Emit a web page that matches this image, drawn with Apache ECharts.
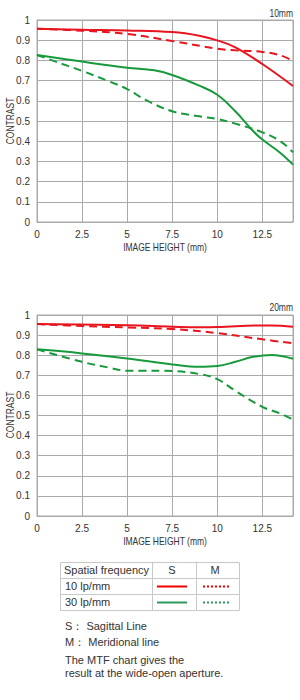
<!DOCTYPE html>
<html><head><meta charset="utf-8">
<script src="https://cdn.jsdelivr.net/npm/echarts@6/dist/echarts.min.js"></script>
<style>html,body{margin:0;padding:0;background:#fff}#c{width:300px;height:700px}</style>
</head><body><div id="c"></div>
<script>
// ---- data ----
const xTicks = [0, 2.5, 5, 7.5, 10, 12.5];
const yTicks = [0, 0.1, 0.2, 0.3, 0.4, 0.5, 0.6, 0.7, 0.8, 0.9, 1];
const chartTitles = ['10mm', '20mm'];

// 10mm
const w_s10_x = [0, 2.5, 5, 7.5, 9, 10, 11, 12.5, 14.2];
const w_s10_y = [0.957, 0.952, 0.948, 0.94, 0.922, 0.899, 0.865, 0.782, 0.673];
const w_m10_x = [0, 2.5, 5, 7.5, 10, 11, 12.5, 13.5, 14.2];
const w_m10_y = [0.957, 0.947, 0.931, 0.896, 0.858, 0.85, 0.842, 0.825, 0.797];
const w_s30_x = [0, 2.5, 5, 6.5, 7.5, 9, 10, 11, 12, 12.5, 13.5, 14.2];
const w_s30_y = [0.827, 0.794, 0.764, 0.751, 0.728, 0.675, 0.63, 0.548, 0.449, 0.408, 0.342, 0.284];
const w_m30_x = [0, 1, 2.5, 4, 5, 6, 7.5, 9, 10, 11, 12.5, 13.5, 14.2];
const w_m30_y = [0.827, 0.795, 0.748, 0.696, 0.658, 0.606, 0.548, 0.523, 0.51, 0.487, 0.444, 0.4, 0.345];

// 20mm
const t_s10_x = [0, 5, 7.5, 9, 10, 12.5, 13, 14.2];
const t_s10_y = [0.955, 0.949, 0.942, 0.939, 0.94, 0.948, 0.948, 0.941];
const t_m10_x = [0, 2.5, 5, 7.5, 10, 12.5, 14.2];
const t_m10_y = [0.955, 0.945, 0.938, 0.93, 0.91, 0.879, 0.859];
const t_s30_x = [0, 2.5, 5, 7.5, 9, 10, 11, 12, 13, 14.2];
const t_s30_y = [0.829, 0.809, 0.784, 0.754, 0.742, 0.746, 0.767, 0.792, 0.801, 0.782];
const t_m30_x = [0, 2.5, 4, 5, 6, 7.5, 9, 10, 11, 12.5, 13.5, 14.2];
const t_m30_y = [0.829, 0.767, 0.738, 0.723, 0.723, 0.721, 0.706, 0.681, 0.623, 0.543, 0.51, 0.48];

const xMax = 14.2;
const RED = '#e8141e', GREEN = '#189a3c';
const FONT = '"Liberation Sans", Arial, sans-serif';
const TXT = '#333';
const SQ = 0.85; // horizontal squeeze of the narrow chart captions

function pairs(xs, ys){ return xs.map((x,i)=>[x, ys[i]]); }

const chart = echarts.init(document.getElementById('c'), null, {renderer:'svg'});

const grids = [
  {left:37, top:20, width:256, height:202},
  {left:37, top:315, width:256, height:201}
];
const xAxes = grids.map((g,i)=>({
  type:'value', gridIndex:i, min:0, max:xMax, interval:2.5,
  axisLine:{show:true, lineStyle:{color:'#aaa'}}, axisTick:{show:false},
  splitLine:{show:true, lineStyle:{color:'#aaa', width:1}},
  axisLabel:{color:TXT, fontSize:10, fontFamily:FONT, margin:7, showMaxLabel:false,
    formatter:v=> xTicks.includes(v) ? String(v) : ''}
}));
const yAxes = grids.map((g,i)=>({
  type:'value', gridIndex:i, min:0, max:1, interval:0.1,
  axisLine:{show:true, lineStyle:{color:'#aaa'}}, axisTick:{show:false},
  splitLine:{show:true, lineStyle:{color:'#aaa', width:1}},
  axisLabel:{color:TXT, fontSize:10, fontFamily:FONT, margin:7,
    formatter:v=>{ const t = yTicks.find(k=>Math.abs(k-v)<1e-6); return t===undefined?'':String(t);} }
}));

function ser(i, xs, ys, color, dashed){
  return {type:'line', xAxisIndex:i, yAxisIndex:i, data:pairs(xs,ys), smooth:0.4,
    showSymbol:false, symbol:'none', silent:true,
    lineStyle:{color, width:2, type: dashed ? [8,5] : 'solid'}};
}
const series = [
  ser(0, w_m10_x, w_m10_y, RED, true),
  ser(0, w_s10_x, w_s10_y, RED, false),
  ser(0, w_m30_x, w_m30_y, GREEN, true),
  ser(0, w_s30_x, w_s30_y, GREEN, false),
  ser(1, t_m10_x, t_m10_y, RED, true),
  ser(1, t_s10_x, t_s10_y, RED, false),
  ser(1, t_m30_x, t_m30_y, GREEN, true),
  ser(1, t_s30_x, t_s30_y, GREEN, false)
];

function cap(text, x, y, rot, align){
  return {type:'text', x, y, rotation:rot||0, scaleX:SQ,
    style:{text, fill:TXT, font:'10px '+FONT, textAlign:align||'center', textVerticalAlign:'middle'}};
}

const tb = '#c8c8c8';
const LF = 11;
const graphic = [
  cap(chartTitles[0], 293, 14, 0, 'right'),
  cap(chartTitles[1], 293, 308, 0, 'right'),
  cap('CONTRAST', 11, 121, Math.PI/2),
  cap('CONTRAST', 11, 415, Math.PI/2),
  cap('IMAGE HEIGHT (mm)', 165, 248, 0),
  cap('IMAGE HEIGHT (mm)', 165, 542, 0),
  // legend table
  {type:'rect', shape:{x:60.5, y:562.5, width:179, height:48}, style:{fill:'none', stroke:tb, lineWidth:1}},
  {type:'line', shape:{x1:60, y1:578.5, x2:240, y2:578.5}, style:{stroke:tb, lineWidth:1}},
  {type:'line', shape:{x1:60, y1:594.5, x2:240, y2:594.5}, style:{stroke:tb, lineWidth:1}},
  {type:'line', shape:{x1:152.5, y1:562, x2:152.5, y2:611}, style:{stroke:tb, lineWidth:1}},
  {type:'line', shape:{x1:196.5, y1:562, x2:196.5, y2:611}, style:{stroke:tb, lineWidth:1}},
  {type:'text', x:64, y:570, style:{text:'Spatial frequency', fill:TXT, font:LF+'px '+FONT, textVerticalAlign:'middle'}},
  {type:'text', x:172, y:570, style:{text:'S', fill:TXT, font:LF+'px '+FONT, textAlign:'center', textVerticalAlign:'middle'}},
  {type:'text', x:215, y:570, style:{text:'M', fill:TXT, font:LF+'px '+FONT, textAlign:'center', textVerticalAlign:'middle'}},
  {type:'text', x:65, y:586, style:{text:'10 lp/mm', fill:TXT, font:LF+'px '+FONT, textVerticalAlign:'middle'}},
  {type:'text', x:65, y:602, style:{text:'30 lp/mm', fill:TXT, font:LF+'px '+FONT, textVerticalAlign:'middle'}},
  {type:'line', shape:{x1:157, y1:586.5, x2:187, y2:586.5}, style:{stroke:'#ee0000', lineWidth:2}},
  {type:'line', shape:{x1:203, y1:586.5, x2:229, y2:586.5}, style:{stroke:'#ee0000', lineWidth:2, lineDash:[2,2]}},
  {type:'line', shape:{x1:157, y1:602.5, x2:187, y2:602.5}, style:{stroke:'#2e9a5e', lineWidth:2}},
  {type:'line', shape:{x1:203, y1:602.5, x2:229, y2:602.5}, style:{stroke:'#2e9a5e', lineWidth:2, lineDash:[2,2]}},
  {type:'text', x:65, y:626, style:{text:'S： Sagittal Line', fill:TXT, font:LF+'px '+FONT, textVerticalAlign:'middle'}},
  {type:'text', x:65, y:642, style:{text:'M： Meridional line', fill:TXT, font:LF+'px '+FONT, textVerticalAlign:'middle'}},
  {type:'text', x:65, y:660, style:{text:'The MTF chart gives the', fill:TXT, font:LF+'px '+FONT, textVerticalAlign:'middle'}},
  {type:'text', x:65, y:673, style:{text:'result at the wide-open aperture.', fill:TXT, font:LF+'px '+FONT, textVerticalAlign:'middle'}}
];

chart.setOption({
  animation:false,
  backgroundColor:'#fff',
  grid: grids.map(g=>Object.assign({show:true, borderColor:'#aaa', borderWidth:1, containLabel:false, outerBoundsMode:'none'}, g)),
  xAxis:xAxes, yAxis:yAxes, series, graphic
});
</script></body></html>
